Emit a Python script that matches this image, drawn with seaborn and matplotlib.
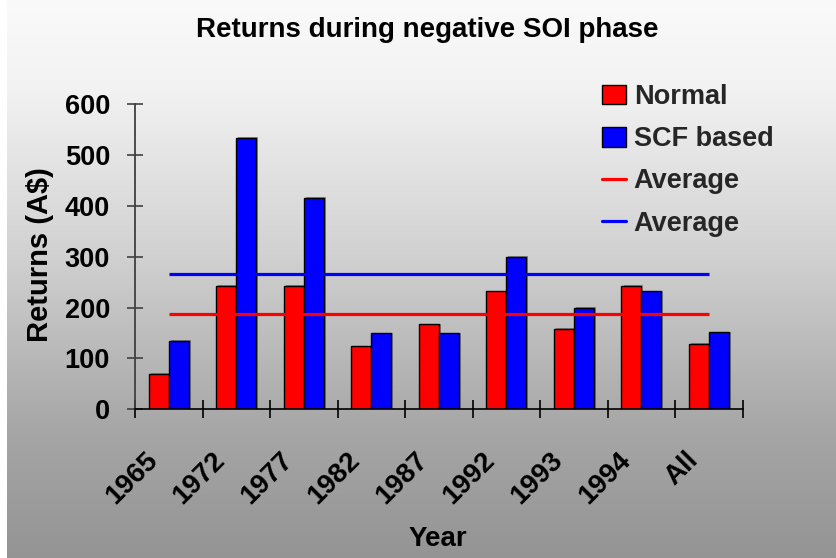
import numpy as np
import pandas as pd
import matplotlib
matplotlib.use('Agg')
import matplotlib.pyplot as plt
import seaborn as sns
from matplotlib.patches import Patch
from matplotlib.lines import Line2D
from matplotlib.transforms import ScaledTranslation, blended_transform_factory
import matplotlib.patheffects as pe

# ---- data ----
years = ['1965', '1972', '1977', '1982', '1987', '1992', '1993', '1994', 'All']
normal = [70, 243, 243, 124, 167, 232, 158, 243, 128]
scf_based = [134, 534, 416, 149, 149, 300, 200, 232, 151]
series_names = ['Normal', 'SCF based']
avg_normal = 187
avg_scf = 265
yticks = [0, 100, 200, 300, 400, 500, 600]

RED = '#ff0000'
BLUE = '#0000ff'

sns.set_theme(style='white')
plt.rcParams['font.family'] = ['Liberation Sans', 'DejaVu Sans']
plt.rcParams['font.weight'] = 'bold'

W, H = 837, 558
fig = plt.figure(figsize=(W / 100, H / 100), dpi=100)
fig.patch.set_facecolor('white')

# gradient background
bg = fig.add_axes([7 / W, 0, 1 - 7 / W, 1], zorder=-10)
g = np.interp(np.arange(H), [0, 90, 250, 430, 558], [250, 242, 210, 166, 148]) / 255
img = np.repeat(np.repeat(g[:, None], 2, axis=1)[:, :, None], 3, axis=2)
bg.imshow(img, aspect='auto', extent=[0, 1, 0, 1], interpolation='bilinear')
bg.axis('off')

ax = fig.add_axes([135 / W, 1 - 409.3 / H, 607.7 / W, 305.3 / H])
ax.patch.set_alpha(0)

df = pd.DataFrame({
    'Year': years * 2,
    'Series': [series_names[0]] * len(years) + [series_names[1]] * len(years),
    'Returns': normal + scf_based,
})
sns.barplot(data=df, x='Year', y='Returns', hue='Series', order=years,
            hue_order=series_names, palette={series_names[0]: RED, series_names[1]: BLUE},
            width=0.59, edgecolor='black', linewidth=1, saturation=1, ax=ax,
            legend=False, errorbar=None)
for p in ax.patches:
    p.set_path_effects([pe.SimplePatchShadow(offset=(1.5, 0.5), shadow_rgbFace=(0.35, 0.35, 0.35), alpha=0.6), pe.Normal()])

ax.hlines(avg_normal, 0, len(years) - 1, color=RED, lw=2.3, zorder=5)
ax.hlines(avg_scf, 0, len(years) - 1, color=BLUE, lw=2.3, zorder=5)

ax.set_xlim(-0.5, len(years) - 0.5)
ax.set_ylim(0, 600)
ax.set_xlabel('')
ax.set_ylabel('')
ax.set_yticks(yticks)
ax.set_yticklabels([str(v) for v in yticks], fontsize=19.5, fontweight='bold', color='black')
ax.set_xticks(np.arange(len(years) + 1) - 0.5)
ax.set_xticklabels([])
ax.tick_params(axis='y', direction='inout', length=12, width=1.2, color='#404040', pad=12, left=True)
ax.tick_params(axis='x', direction='inout', length=13, width=1.2, color='black', bottom=True)
for s in ['top', 'right']:
    ax.spines[s].set_visible(False)
ax.spines['left'].set_color('#404040')
ax.spines['left'].set_linewidth(1.3)
ax.spines['bottom'].set_color('black')
ax.spines['bottom'].set_linewidth(1.2)

trans = blended_transform_factory(ax.transData, ax.transAxes) + \
    ScaledTranslation(-15 / 100, -47 / 100, fig.dpi_scale_trans)
for i, yr in enumerate(years):
    ax.text(i, 0, yr, transform=trans, rotation=45, rotation_mode='anchor',
            ha='right', va='center', fontsize=20, fontweight='bold', color='black')

handles = [Patch(facecolor=RED, edgecolor='black', linewidth=1),
           Patch(facecolor=BLUE, edgecolor='black', linewidth=1),
           Line2D([], [], color=RED, lw=2.3),
           Line2D([], [], color=BLUE, lw=2.3)]
labels = [series_names[0], series_names[1], 'Average', 'Average']
fig.legend(handles, labels, loc='upper left', bbox_to_anchor=(602 / W, 1 - 84 / H),
           frameon=False, prop={'weight': 'bold', 'size': 19.5},
           handlelength=0.87, handleheight=0.75, handletextpad=0.3,
           labelspacing=0.6, borderpad=0, borderaxespad=0)

fig.text(427 / W, 1 - 30 / H, 'Returns during negative SOI phase', ha='center', va='center',
         fontsize=20, fontweight='bold', color='black')
fig.text(40 / W, 1 - 255 / H, r'Returns (A\$)', rotation=90, ha='center', va='center',
         fontsize=21, fontweight='bold', color='black')
fig.text(438 / W, 1 - 546 / H, 'Year', ha='center', va='baseline',
         fontsize=20, fontweight='bold', color='black')

fig.savefig('out.png', dpi=100)
